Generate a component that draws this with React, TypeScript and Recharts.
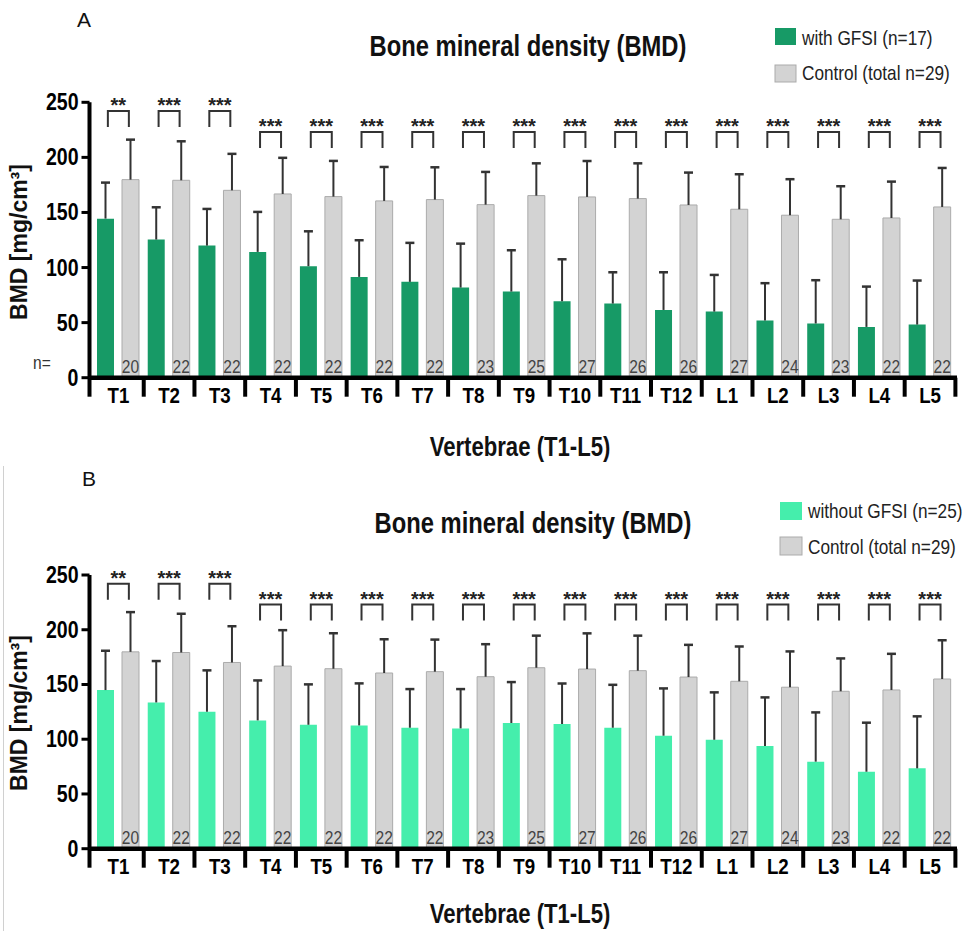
import React from 'react';
import { ComposedChart, Bar, XAxis, YAxis, Scatter, LabelList } from 'recharts';

const categories = ['T1', 'T2', 'T3', 'T4', 'T5', 'T6', 'T7', 'T8', 'T9', 'T10', 'T11', 'T12', 'L1', 'L2', 'L3', 'L4', 'L5'];
const withGfsiMean = [144.4, 125.4, 119.9, 114.2, 101.2, 91.5, 87, 81.8, 78.2, 69.4, 67.3, 61.5, 60, 51.9, 49.2, 46.1, 48.2];
const withGfsiSd = [32.7, 29.3, 33.3, 36.3, 31.7, 33.3, 35.4, 39.9, 37.5, 38.1, 28.4, 34.2, 33.3, 33.9, 39.3, 36.6, 40];
const withoutGfsiMean = [144.9, 133.6, 125.1, 117.2, 113.2, 112.6, 110.5, 109.9, 114.8, 113.9, 110.5, 103.2, 99.5, 93.8, 79.5, 70.3, 73.4];
const withoutGfsiSd = [35.9, 37.8, 37.8, 36.5, 36.9, 38.4, 35.3, 35.9, 37.4, 37, 39.2, 43.2, 43.3, 44.4, 45, 44.8, 47.5];
const controlMean = [179.8, 179.2, 170.1, 166.8, 164.4, 160.5, 161.7, 157.1, 165.3, 164.1, 162.6, 156.8, 152.9, 147.5, 143.8, 145, 155];
const controlSd = [36.3, 35.4, 33.1, 32.8, 32.4, 30.8, 29.3, 29.7, 29.3, 32.6, 32, 29.4, 31.8, 32.7, 30, 33, 35.4];
const controlN = [20, 22, 22, 22, 22, 22, 22, 23, 25, 27, 26, 26, 27, 24, 23, 22, 22];
const sigStars = ['**', '***', '***', '***', '***', '***', '***', '***', '***', '***', '***', '***', '***', '***', '***', '***', '***'];
const sigLevel = [242, 242, 242, 223, 223, 223, 223, 223, 223, 223, 223, 223, 223, 223, 223, 223, 223];
const yTicks = [0, 50, 100, 150, 200, 250];

const SANS = "'Liberation Sans', Arial, sans-serif";
const GRAY = '#d3d3d3';
const GRAY_STROKE = '#ababab';
const NARROW_X = 0.82;

function buildData(mean: number[], sd: number[]) {
  return categories.map((name, i) => ({
    name,
    g: mean[i],
    gErr: sd[i],
    c: controlMean[i],
    cErr: controlSd[i],
    n: controlN[i],
    sig: sigLevel[i],
    stars: sigStars[i],
  }));
}

const SText = (props: any) => {
  const { x, y, sx = NARROW_X, children, ...rest } = props;
  return (
    <text transform={`translate(${x},${y}) scale(${sx},1)`} fontFamily={SANS} {...rest}>
      {children}
    </text>
  );
};

const ErrShape = (props: any) => {
  const { x, y, width, height } = props;
  if (x == null || y == null) return null;
  const cx = x + width / 2;
  return (
    <g>
      <line x1={cx} x2={cx} y1={y + height} y2={y} stroke="#333" strokeWidth={2} />
      <line x1={cx - 4.5} x2={cx + 4.5} y1={y} y2={y} stroke="#333" strokeWidth={2.5} />
    </g>
  );
};

const Bracket = (props: any) => {
  const { cx, cy, payload } = props;
  if (cx == null || cy == null) return null;
  return (
    <g>
      <path d={`M${cx - 10.5},${cy + 16}V${cy}H${cx + 10.5}V${cy + 16}`} fill="none" stroke="#333" strokeWidth={2} />
      <text x={cx} y={cy + 1} textAnchor="middle" fontSize={20} fontWeight="bold" fontFamily={SANS} fill="#222">
        {payload.stars}
      </text>
    </g>
  );
};

const NLabel = (props: any) => {
  const { x, y, width, height, value } = props;
  return (
    <SText x={x + width / 2} y={y + height - 5} textAnchor="middle" fontSize={19} fill="#444">
      {value}
    </SText>
  );
};

const XTick = (props: any) => {
  const { x, y, payload, index } = props;
  const half = payload && payload.offset != null ? payload.offset : 0;
  return (
    <g>
      {index === 0 && <line x1={x - half - 3.5} x2={x - half - 3.5} y1={y} y2={y + 19} stroke="#000" strokeWidth={4} />}
      <line x1={x + half} x2={x + half} y1={y} y2={y + 19} stroke="#000" strokeWidth={4} />
      <SText x={x} y={y + 25.5} sx={0.85} textAnchor="middle" fontSize={22} fontWeight="bold" fill="#000">
        {payload.value}
      </SText>
    </g>
  );
};

const YTick = (props: any) => {
  const { x, y, payload } = props;
  return (
    <SText x={x} y={y + 8} sx={0.85} textAnchor="end" fontSize={23} fontWeight="bold" fill="#000">
      {payload.value}
    </SText>
  );
};

function Panel(props: { mean: number[]; sd: number[]; color: string; top: number; marginTop: number; marginBottom: number }) {
  const data = buildData(props.mean, props.sd);
  return (
    <div style={{ position: 'absolute', left: 0, top: props.top }}>
      <ComposedChart
        width={969}
        height={470}
        data={data}
        margin={{ top: props.marginTop, right: 12, bottom: props.marginBottom, left: 0 }}
        barSize={17}
        barGap={8}
      >
        <XAxis
          dataKey="name"
          interval={0}
          height={40}
          tickLine={false}
          tickSize={0}
          tickMargin={0}
          axisLine={{ stroke: '#000', strokeWidth: 4.5 }}
          tick={<XTick />}
          padding={{ left: 3.5, right: 1.6 }}
        />
        <YAxis
          width={89.5}
          domain={[0, 250]}
          ticks={yTicks}
          interval={0}
          tickSize={8}
          tickMargin={3}
          axisLine={{ stroke: '#000', strokeWidth: 4 }}
          tickLine={{ stroke: '#000', strokeWidth: 3 }}
          tick={<YTick />}
        />
        <Bar dataKey="g" stackId="grp" fill={props.color} isAnimationActive={false} />
        <Bar dataKey="gErr" stackId="grp" shape={<ErrShape />} isAnimationActive={false} />
        <Bar dataKey="c" stackId="ctl" fill={GRAY} stroke={GRAY_STROKE} strokeWidth={1} isAnimationActive={false}>
          <LabelList dataKey="n" content={<NLabel />} />
        </Bar>
        <Bar dataKey="cErr" stackId="ctl" shape={<ErrShape />} isAnimationActive={false} />
        <Scatter dataKey="sig" shape={<Bracket />} isAnimationActive={false} />
      </ComposedChart>
    </div>
  );
}

export default function App() {
  return (
    <div style={{ position: 'absolute', left: 0, top: 0, width: 969, height: 931, background: '#fff', overflow: 'hidden' }}>
      <Panel mean={withGfsiMean} sd={withGfsiSd} color="#179a66" top={0} marginTop={102.3} marginBottom={52.3} />
      <Panel mean={withoutGfsiMean} sd={withoutGfsiSd} color="#45eeac" top={470} marginTop={105} marginBottom={51.3} />
      <div style={{ position: 'absolute', left: 3, top: 466, width: 0, height: 465, borderLeft: '1px solid #d0d0d0' }} />
      <svg width={969} height={931} style={{ position: 'absolute', left: 0, top: 0, pointerEvents: 'none' }}>
        {/* Panel A */}
        <text x={77} y={27} fontSize={21} fontFamily={SANS} fill="#111">A</text>
        <SText x={528} y={56} textAnchor="middle" fontSize={29} fontWeight="bold" fill="#111">Bone mineral density (BMD)</SText>
        <rect x={775} y={28} width={21} height={17} fill="#179a66" />
        <SText x={802} y={45} textAnchor="start" fontSize={21} fill="#222">with GFSI (n=17)</SText>
        <rect x={775} y={65} width={21} height={17} fill={GRAY} stroke={GRAY_STROKE} />
        <SText x={802} y={80} textAnchor="start" fontSize={21} fill="#222">Control (total n=29)</SText>
        <text transform="translate(27,242) rotate(-90)" textAnchor="middle" fontSize={23} fontWeight="bold" fontFamily={SANS} fill="#111">BMD [mg/cm³]</text>
        <SText x={33} y={369} textAnchor="start" fontSize={19} fill="#333">n=</SText>
        <SText x={520} y={456} textAnchor="middle" fontSize={27} fontWeight="bold" fill="#111">Vertebrae (T1-L5)</SText>
        {/* Panel B */}
        <text x={82} y={486} fontSize={21} fontFamily={SANS} fill="#111">B</text>
        <SText x={533} y={533} textAnchor="middle" fontSize={29} fontWeight="bold" fill="#111">Bone mineral density (BMD)</SText>
        <rect x={780} y={502} width={22} height={18} fill="#45eeac" />
        <SText x={808} y={518} textAnchor="start" fontSize={21} fill="#222">without GFSI (n=25)</SText>
        <rect x={780} y={537} width={22} height={18} fill={GRAY} stroke={GRAY_STROKE} />
        <SText x={808} y={554} textAnchor="start" fontSize={21} fill="#222">Control (total n=29)</SText>
        <text transform="translate(27,713) rotate(-90)" textAnchor="middle" fontSize={23} fontWeight="bold" fontFamily={SANS} fill="#111">BMD [mg/cm³]</text>
        <SText x={520} y={923} textAnchor="middle" fontSize={27} fontWeight="bold" fill="#111">Vertebrae (T1-L5)</SText>
      </svg>
    </div>
  );
}
